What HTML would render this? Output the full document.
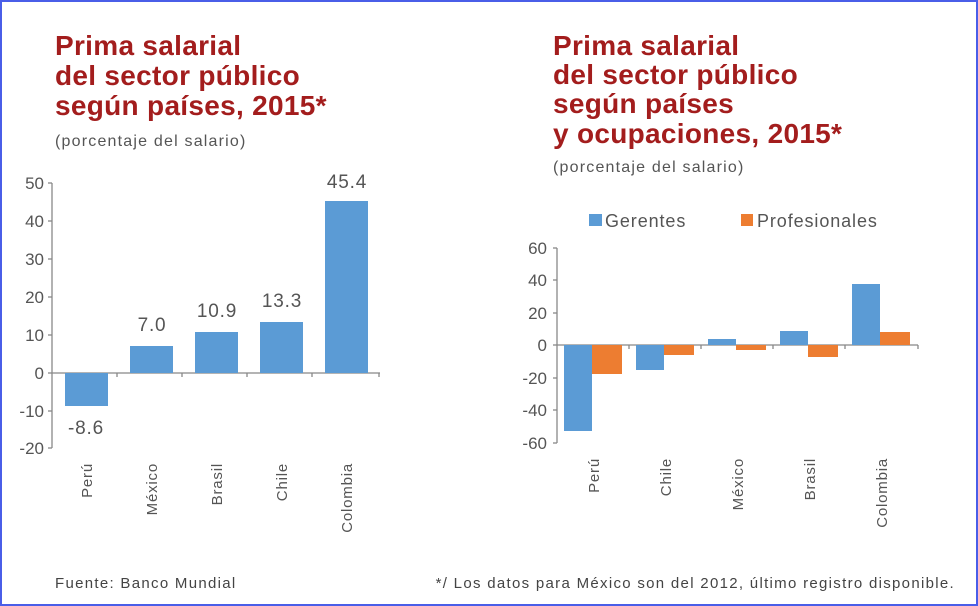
<!DOCTYPE html>
<html><head><meta charset="utf-8"><style>
body{margin:0;background:#fff}
svg{display:block}
.t{font-family:"Liberation Sans",sans-serif;font-weight:bold;font-size:28px;fill:#a31d1d;letter-spacing:0.3px}
.s{font-family:"Liberation Sans",sans-serif;font-size:16px;fill:#555;letter-spacing:1.2px}
.a{font-family:"Liberation Sans",sans-serif;font-size:17px;fill:#555}
.v{font-family:"Liberation Sans",sans-serif;font-size:19px;fill:#555;letter-spacing:0.8px}
.l{font-family:"Liberation Sans",sans-serif;font-size:18px;fill:#555;letter-spacing:0.9px}
.c{font-family:"Liberation Sans",sans-serif;font-size:15px;fill:#555;letter-spacing:0.8px}
.f{font-family:"Liberation Sans",sans-serif;font-size:15px;fill:#444;letter-spacing:1.3px}
</style></head><body>
<svg width="978" height="606" viewBox="0 0 978 606" xmlns="http://www.w3.org/2000/svg">
<rect x="1" y="1" width="976" height="604" fill="#fff" stroke="#4a5ee8" stroke-width="2"/>
<text class="t" x="55" y="55">Prima salarial</text>
<text class="t" x="55" y="85">del sector público</text>
<text class="t" x="55" y="115">según países, 2015*</text>
<text class="s" x="55" y="146">(porcentaje del salario)</text>

<text class="t" x="553" y="55">Prima salarial</text>
<text class="t" x="553" y="84">del sector público</text>
<text class="t" x="553" y="113">según países</text>
<text class="t" x="553" y="143">y ocupaciones, 2015*</text>
<text class="s" x="553" y="172">(porcentaje del salario)</text>

<!-- left chart -->
<g stroke="#888" stroke-width="1.3" fill="none">
<line x1="52" y1="183" x2="52" y2="448"/>
<line x1="52" y1="373" x2="380" y2="373"/>
<line x1="48" y1="183" x2="52" y2="183"/><line x1="48" y1="221" x2="52" y2="221"/>
<line x1="48" y1="259" x2="52" y2="259"/><line x1="48" y1="297" x2="52" y2="297"/>
<line x1="48" y1="335" x2="52" y2="335"/><line x1="48" y1="373" x2="52" y2="373"/>
<line x1="48" y1="411" x2="52" y2="411"/><line x1="48" y1="448" x2="52" y2="448"/>
<line x1="117" y1="373" x2="117" y2="377"/><line x1="182" y1="373" x2="182" y2="377"/>
<line x1="247" y1="373" x2="247" y2="377"/><line x1="312" y1="373" x2="312" y2="377"/>
<line x1="379" y1="373" x2="379" y2="377"/>
</g>
<g class="a" text-anchor="end">
<text x="44" y="189">50</text><text x="44" y="227">40</text><text x="44" y="265">30</text>
<text x="44" y="303">20</text><text x="44" y="341">10</text><text x="44" y="379">0</text>
<text x="44" y="417">-10</text><text x="44" y="454">-20</text>
</g>
<g fill="#5b9bd5">
<rect x="65" y="373" width="43" height="33"/>
<rect x="130" y="346" width="43" height="27"/>
<rect x="195" y="332" width="43" height="41"/>
<rect x="260" y="322" width="43" height="51"/>
<rect x="325" y="201" width="43" height="172"/>
</g>
<g class="v" text-anchor="middle">
<text x="86" y="434">-8.6</text><text x="152" y="331">7.0</text>
<text x="217" y="317">10.9</text><text x="282" y="307">13.3</text><text x="347" y="188">45.4</text>
</g>
<g class="c" text-anchor="end">
<text transform="translate(92,463) rotate(-90)">Perú</text>
<text transform="translate(157,463) rotate(-90)">México</text>
<text transform="translate(222,463) rotate(-90)">Brasil</text>
<text transform="translate(287,463) rotate(-90)">Chile</text>
<text transform="translate(352,463) rotate(-90)">Colombia</text>
</g>

<!-- right chart -->
<rect x="589" y="214" width="13" height="12" fill="#5b9bd5"/>
<text class="l" x="605" y="227">Gerentes</text>
<rect x="741" y="214" width="12" height="12" fill="#ed7d31"/>
<text class="l" x="757" y="227">Profesionales</text>
<g stroke="#888" stroke-width="1.3" fill="none">
<line x1="557" y1="248" x2="557" y2="443"/>
<line x1="557" y1="345" x2="918" y2="345"/>
<line x1="553" y1="248" x2="557" y2="248"/><line x1="553" y1="280" x2="557" y2="280"/>
<line x1="553" y1="313" x2="557" y2="313"/><line x1="553" y1="345" x2="557" y2="345"/>
<line x1="553" y1="378" x2="557" y2="378"/><line x1="553" y1="410" x2="557" y2="410"/>
<line x1="553" y1="443" x2="557" y2="443"/>
<line x1="629" y1="345" x2="629" y2="349"/><line x1="701" y1="345" x2="701" y2="349"/>
<line x1="773" y1="345" x2="773" y2="349"/><line x1="845" y1="345" x2="845" y2="349"/>
<line x1="918" y1="345" x2="918" y2="349"/>
</g>
<g class="a" text-anchor="end">
<text x="547" y="254">60</text><text x="547" y="286">40</text><text x="547" y="319">20</text>
<text x="547" y="351">0</text><text x="547" y="384">-20</text><text x="547" y="416">-40</text>
<text x="547" y="449">-60</text>
</g>
<g fill="#5b9bd5">
<rect x="564" y="345" width="28" height="86"/>
<rect x="636" y="345" width="28" height="25"/>
<rect x="708" y="339" width="28" height="6"/>
<rect x="780" y="331" width="28" height="14"/>
<rect x="852" y="284" width="28" height="61"/>
</g>
<g fill="#ed7d31">
<rect x="592" y="345" width="30" height="29"/>
<rect x="664" y="345" width="30" height="10"/>
<rect x="736" y="345" width="30" height="5"/>
<rect x="808" y="345" width="30" height="12"/>
<rect x="880" y="332" width="30" height="13"/>
</g>
<g class="c" text-anchor="end">
<text transform="translate(599,458) rotate(-90)">Perú</text>
<text transform="translate(671,458) rotate(-90)">Chile</text>
<text transform="translate(743,458) rotate(-90)">México</text>
<text transform="translate(815,458) rotate(-90)">Brasil</text>
<text transform="translate(887,458) rotate(-90)">Colombia</text>
</g>

<text class="f" x="55" y="588">Fuente: Banco Mundial</text>
<text class="f" x="955" y="588" text-anchor="end">*/ Los datos para México son del 2012, último registro disponible.</text>
</svg>
</body></html>
